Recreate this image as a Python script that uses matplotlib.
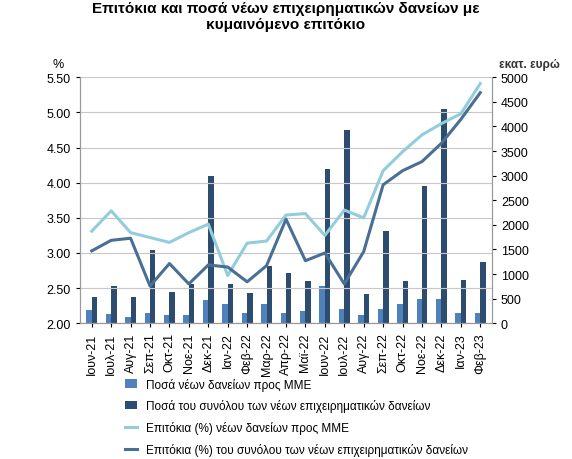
import numpy as np
import matplotlib.pyplot as plt

plt.rcParams['font.family'] = ['Liberation Sans', 'DejaVu Sans']

months = ["Ιουν-21", "Ιουλ-21", "Αυγ-21", "Σεπ-21", "Οκτ-21", "Νοε-21", "Δεκ-21",
          "Ιαν-22", "Φεβ-22", "Μαρ-22", "Απρ-22", "Μαϊ-22", "Ιουν-22", "Ιουλ-22",
          "Αυγ-22", "Σεπ-22", "Οκτ-22", "Νοε-22", "Δεκ-22", "Ιαν-23", "Φεβ-23"]
sme_amount = [280, 190, 130, 210, 170, 160, 470, 400, 200, 400, 200, 240, 760,
              290, 170, 300, 400, 490, 500, 200, 200]
total_amount = [530, 760, 530, 1490, 640, 800, 3000, 800, 610, 1160, 1030, 860,
                3130, 3930, 600, 1870, 850, 2780, 4360, 880, 1250]
sme_rate = [3.31, 3.60, 3.29, 3.22, 3.15, 3.29, 3.41, 2.68, 3.14, 3.17, 3.54,
            3.56, 3.25, 3.61, 3.50, 4.17, 4.44, 4.68, 4.84, 4.98, 5.41]
total_rate = [3.03, 3.18, 3.21, 2.53, 2.85, 2.56, 2.83, 2.80, 2.59, 2.82, 3.48,
              2.89, 3.00, 2.56, 3.02, 3.97, 4.17, 4.30, 4.56, 4.90, 5.28]

c_light_bar = "#4f81bd"
c_dark_bar = "#2c4d70"
c_light_line = "#93cddd"
c_dark_line = "#4a6f94"

fig = plt.figure(figsize=(5.72, 4.6), dpi=100)
ax = fig.add_axes([0.14, 0.295, 0.72, 0.535])
ax2 = ax.twinx()
x = np.arange(len(months))
w = 0.28

ax2.bar(x - w / 2, sme_amount, w, color=c_light_bar, label="Ποσά νέων δανείων προς ΜΜΕ")
ax2.bar(x + w / 2, total_amount, w, color=c_dark_bar,
        label="Ποσά του συνόλου των νέων επιχειρηματικών δανείων")
ax.plot(x, sme_rate, color=c_light_line, lw=2.2, label="Επιτόκια (%) νέων δανείων προς ΜΜΕ")
ax.plot(x, total_rate, color=c_dark_line, lw=2.2,
        label="Επιτόκια (%) του συνόλου των νέων επιχειρηματικών δανείων")
ax.set_zorder(ax2.get_zorder() + 1)
ax.patch.set_visible(False)

ax.set_ylim(2.0, 5.5)
ax.set_yticks(np.arange(2.0, 5.51, 0.5))
ax.set_yticklabels([f"{v:.2f}" for v in np.arange(2.0, 5.51, 0.5)])
ax2.set_ylim(0, 5000)
ax2.set_yticks(range(0, 5001, 500))
ax.set_xlim(-0.6, len(months) - 0.4)
ax.set_xticks(x)
ax.set_xticklabels(months, rotation=90)
ax.tick_params(labelsize=9, length=3)
ax2.tick_params(labelsize=9, length=3)
ax.yaxis.grid(True, color="#c8c8c8", lw=0.8)
for a in (ax, ax2):
    a.spines['top'].set_visible(False)
    for s in a.spines.values():
        s.set_color("#999999")
ax.text(-0.04, 1.04, "%", transform=ax.transAxes, fontsize=9, ha="right")
ax2.text(1.09, 1.04, "εκατ. ευρώ", transform=ax.transAxes, fontsize=8.5,
         ha="center", fontweight="bold", color="#333333")

fig.suptitle("Επιτόκια και ποσά νέων επιχειρηματικών δανείων με\nκυμαινόμενο επιτόκιο",
             fontsize=11, fontweight="bold", y=0.995)

h1, l1 = ax2.get_legend_handles_labels()
h2, l2 = ax.get_legend_handles_labels()
fig.legend(h1 + h2, l1 + l2, loc="upper left", bbox_to_anchor=(0.2, 0.2),
           frameon=False, fontsize=8.5, labelspacing=0.75, handlelength=1.0)

fig.savefig("out.png")
